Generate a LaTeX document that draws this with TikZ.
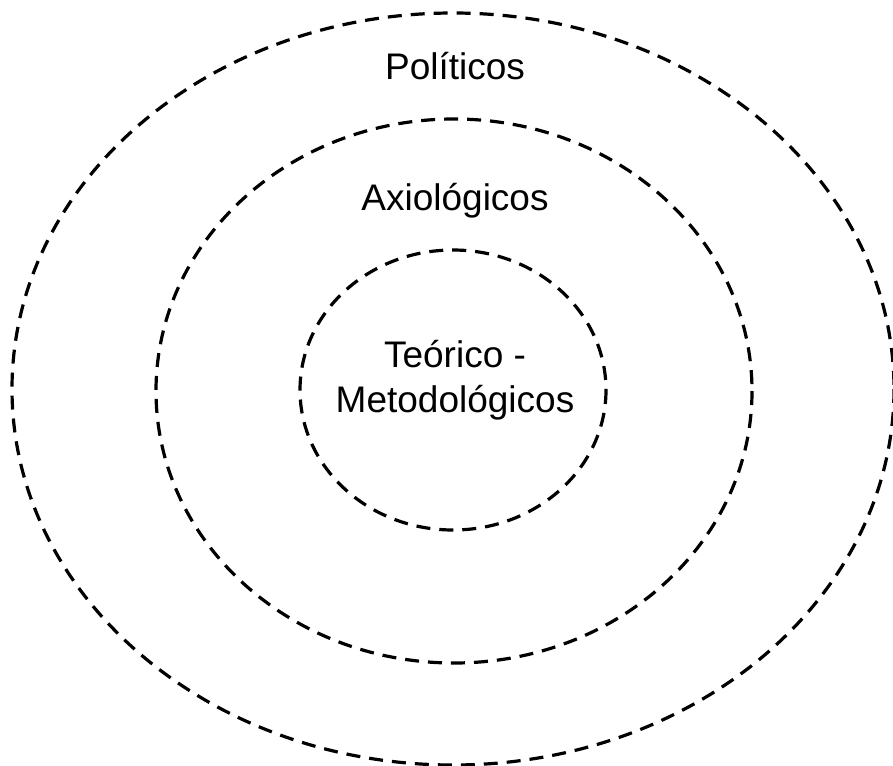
\documentclass[tikz,border=0pt]{standalone}
\usepackage{fontspec}
\setmainfont{Liberation Sans}
\tikzset{
  ring/.style={draw=black, line width=3.2pt, dash pattern=on 14pt off 9pt},
  label/.style={font=\fontsize{37}{45}\selectfont, anchor=base, align=center}
}
\begin{document}
\begin{tikzpicture}[x=1pt, y=-1pt]
  \useasboundingbox (0,0) rectangle (893,765);
  \clip (0,0) rectangle (893,765);
  % rings
  \coordinate (mid) at (453,389);
  \draw[ring] (mid) ellipse [x radius=441, y radius=376];
  \draw[ring] (454,391) ellipse [x radius=298, y radius=272];
  \draw[ring] (453,390) ellipse [x radius=153, y radius=140];
  % labels
  \node[label] (politicos) at (455,80) {Políticos};
  \node[label] (axiologicos) at (455,210) {Axiológicos};
  \node[label] (teorico) at (455,367) {Teórico -};
  \node[label] (metodo) at (455,412) {Metodológicos};
\end{tikzpicture}
\end{document}
